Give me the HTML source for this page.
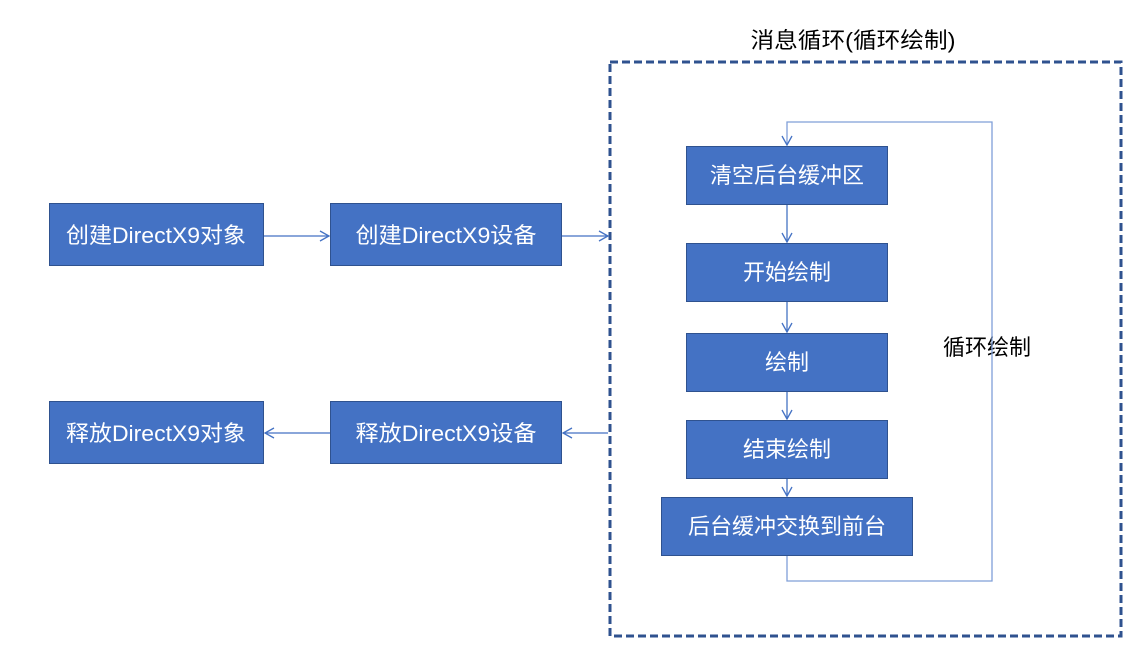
<!DOCTYPE html>
<html><head><meta charset="utf-8"><style>
html,body{margin:0;padding:0;background:#fff;}
svg{display:block;}
text{font-family:"Liberation Sans","Noto Sans CJK SC",sans-serif;}
</style></head><body>
<svg width="1138" height="651" viewBox="0 0 1138 651" xmlns="http://www.w3.org/2000/svg">
<defs>
<marker id="a" markerWidth="12" markerHeight="12" refX="10" refY="6" orient="auto" markerUnits="userSpaceOnUse">
<path d="M1,1 L10,6 L1,11" fill="none" stroke="#4472C4" stroke-width="1.3"/>
</marker>
</defs>
<rect x="610" y="62" width="511" height="574" fill="none" stroke="#2F528F" stroke-width="3" stroke-dasharray="8,4"/>
<text x="853" y="48" font-size="22" text-anchor="middle" fill="#000" textLength="205" lengthAdjust="spacingAndGlyphs">消息循环(循环绘制)</text>

<g fill="#4472C4" stroke="#2F528F" stroke-width="1">
<rect x="49.5" y="203.5" width="214" height="62"/>
<rect x="330.5" y="203.5" width="231" height="62"/>
<rect x="49.5" y="401.5" width="214" height="62"/>
<rect x="330.5" y="401.5" width="231" height="62"/>
<rect x="686.5" y="146.5" width="201" height="58"/>
<rect x="686.5" y="243.5" width="201" height="58"/>
<rect x="686.5" y="333.5" width="201" height="58"/>
<rect x="686.5" y="420.5" width="201" height="58"/>
<rect x="661.5" y="497.5" width="251" height="58"/>
</g>

<g fill="#fff" font-size="22" text-anchor="middle">
<text x="156" y="243" textLength="180" lengthAdjust="spacingAndGlyphs">创建DirectX9对象</text>
<text x="446" y="243" textLength="181" lengthAdjust="spacingAndGlyphs">创建DirectX9设备</text>
<text x="156" y="441" textLength="180" lengthAdjust="spacingAndGlyphs">释放DirectX9对象</text>
<text x="446" y="441" textLength="181" lengthAdjust="spacingAndGlyphs">释放DirectX9设备</text>
<text x="787" y="183">清空后台缓冲区</text>
<text x="787" y="280">开始绘制</text>
<text x="787" y="370">绘制</text>
<text x="787" y="457">结束绘制</text>
<text x="787" y="534">后台缓冲交换到前台</text>
</g>
<text x="987" y="355" font-size="22" text-anchor="middle" fill="#000">循环绘制</text>

<g stroke="#4472C4" stroke-width="1.3" fill="none">
<line x1="264" y1="236" x2="329" y2="236" marker-end="url(#a)"/>
<line x1="562" y1="236" x2="608" y2="236" marker-end="url(#a)"/>
<line x1="608" y1="433" x2="563" y2="433" marker-end="url(#a)"/>
<line x1="330" y1="433" x2="265" y2="433" marker-end="url(#a)"/>
<line x1="787" y1="205" x2="787" y2="242" marker-end="url(#a)"/>
<line x1="787" y1="302" x2="787" y2="332" marker-end="url(#a)"/>
<line x1="787" y1="392" x2="787" y2="419" marker-end="url(#a)"/>
<line x1="787" y1="479" x2="787" y2="496" marker-end="url(#a)"/>
<path d="M787,556 L787,581 L992,581 L992,122 L787,122 L787,145" marker-end="url(#a)" stroke="#7F9FD8"/>
</g>
</svg>
</body></html>
